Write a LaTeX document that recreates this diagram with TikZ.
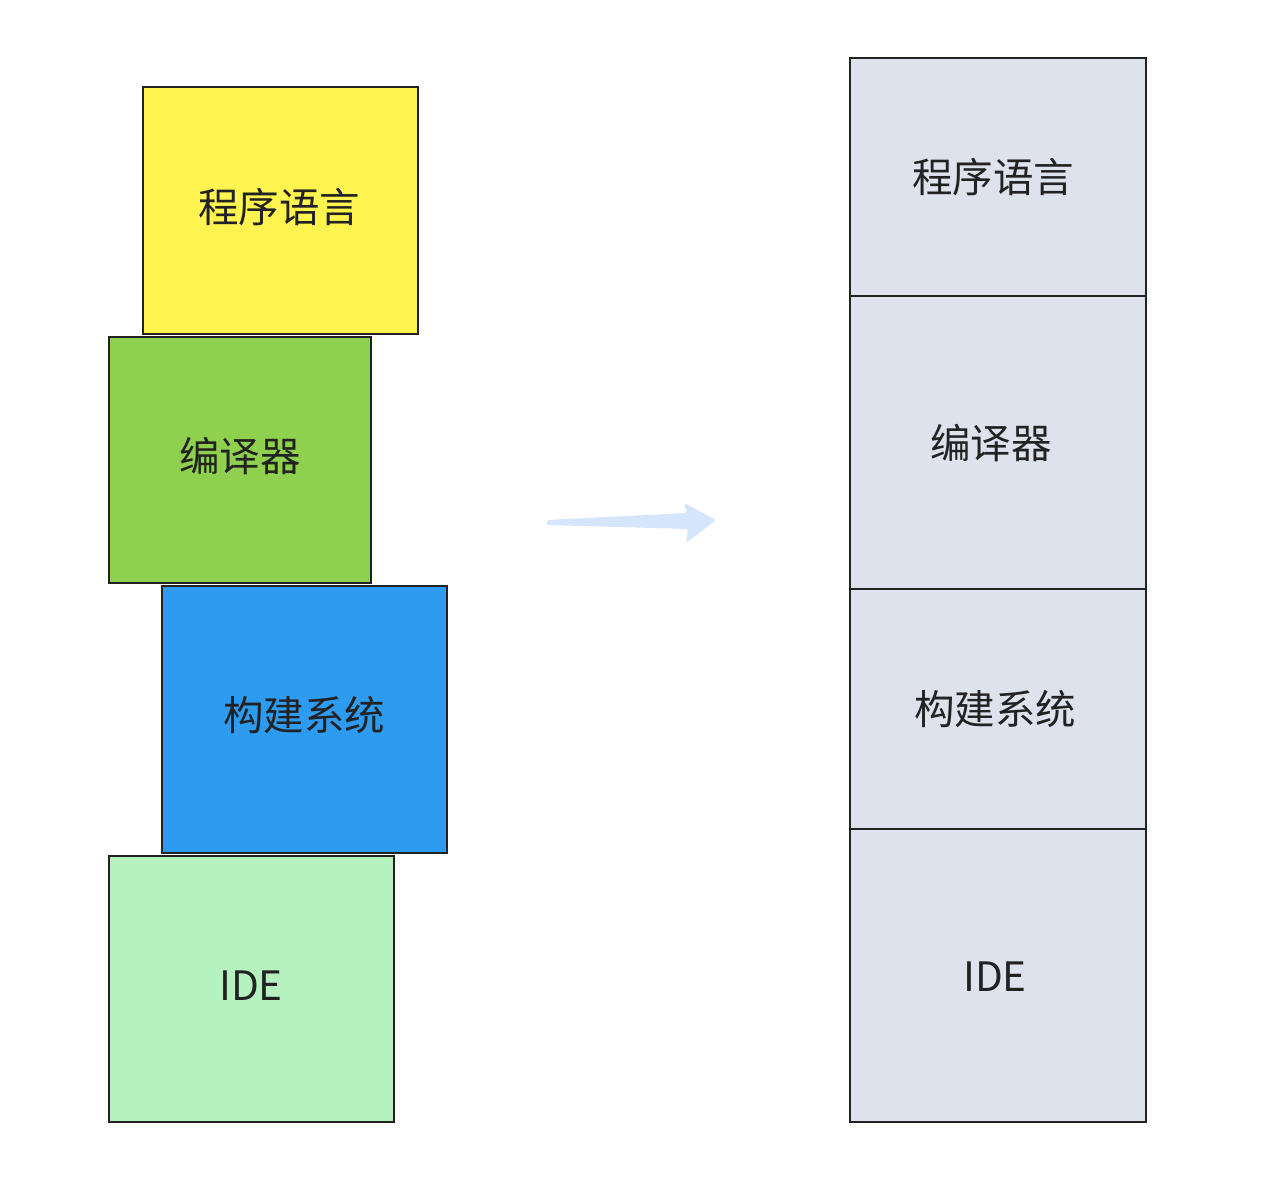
\documentclass[tikz,border=0pt]{standalone}
\usepackage{fontspec}
\setmainfont{Noto Sans CJK SC}
\definecolor{cyellow}{HTML}{FFF44F}
\definecolor{cgreen}{HTML}{8FD14F}
\definecolor{cblue}{HTML}{2D9BF0}
\definecolor{clgreen}{HTML}{B5F2BF}
\definecolor{cgray}{HTML}{DEE2ED}
\definecolor{carrow}{HTML}{D5E6FC}
\definecolor{cline}{HTML}{222222}
\begin{document}
\begin{tikzpicture}[x=0.6pt,y=-0.6pt,
  blk/.style={draw=cline,line width=1.4pt,inner sep=0pt},
  lbl/.style={inner sep=0pt,text=cline,font=\fontsize{24.3}{28}\selectfont},
]
\useasboundingbox[fill=white] (0,0) rectangle (1280,1189);
% left stack
\node[blk,fill=cyellow,minimum width=275*0.6pt,minimum height=247*0.6pt] (lang) at (280.5,210.5) {};
\node[blk,fill=cgreen,minimum width=262*0.6pt,minimum height=246*0.6pt] (comp) at (240,460) {};
\node[blk,fill=cblue,minimum width=285*0.6pt,minimum height=267*0.6pt] (build) at (304.5,719.5) {};
\node[blk,fill=clgreen,minimum width=285*0.6pt,minimum height=266*0.6pt] (ide) at (251.5,989) {};
\node[lbl] (tlang) at (279,207) {程序语言};
\node[lbl] (tcomp) at (240,456) {编译器};
\node[lbl] (tbuild) at (304,715) {构建系统};
\node[lbl] (tide) at (251,986) {IDE};
% right stack
\node[blk,fill=cgray,minimum width=296*0.6pt,minimum height=238*0.6pt] (rlang) at (998,177) {};
\node[blk,fill=cgray,minimum width=296*0.6pt,minimum height=293*0.6pt] (rcomp) at (998,442.5) {};
\node[blk,fill=cgray,minimum width=296*0.6pt,minimum height=240*0.6pt] (rbuild) at (998,709) {};
\node[blk,fill=cgray,minimum width=296*0.6pt,minimum height=293*0.6pt] (ride) at (998,975.5) {};
\node[lbl] (trlang) at (993,177) {程序语言};
\node[lbl] (trcomp) at (991,443) {编译器};
\node[lbl] (trbuild) at (995,709) {构建系统};
\node[lbl] (tride) at (995,977) {IDE};
% arrow
\fill[carrow,rounded corners=1pt] (547,520) -- (687,513) -- (684,503) -- (716,520) -- (686,543) -- (688,529) -- (547,525) -- cycle;
\end{tikzpicture}
\end{document}
